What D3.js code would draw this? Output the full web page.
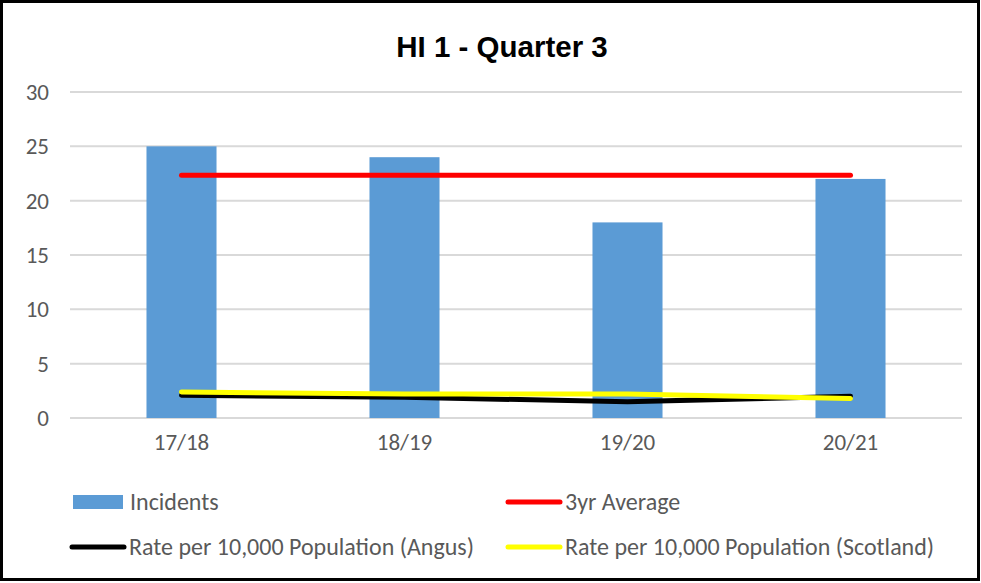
<!DOCTYPE html>
<meta charset="utf-8">
<body style="margin:0;background:#fff">
<script src="https://d3js.org/d3.v7.min.js"></script>
<script>
var years = ["17/18", "18/19", "19/20", "20/21"];
var incidents = [25, 24, 18, 22];
var avg3yr = [22.33, 22.33, 22.33, 22.33];
var rateAngus = [2.1, 1.9, 1.5, 2.0];
var rateScotland = [2.4, 2.2, 2.2, 1.8];
var yTicks = [0, 5, 10, 15, 20, 25, 30];

var width = 981, height = 583;
var font = "Calibri, Carlito, 'Liberation Sans Narrow', 'DejaVu Sans Condensed', sans-serif";

var svg = d3.select("body").append("svg")
    .attr("width", width)
    .attr("height", height);

svg.append("rect")
    .attr("x", 1.5).attr("y", 1.5)
    .attr("width", 977).attr("height", 578)
    .attr("fill", "#fff")
    .attr("stroke", "#000")
    .attr("stroke-width", 3);

var x = d3.scaleBand().domain(years).range([70, 962]).paddingInner(0.686).paddingOuter(0.343);
var y = d3.scaleLinear().domain([0, 30]).range([418, 92]);

// gridlines
svg.append("g").selectAll("line")
    .data(yTicks)
    .enter().append("line")
    .attr("x1", 70).attr("x2", 962)
    .attr("y1", d => y(d)).attr("y2", d => y(d))
    .attr("stroke", "#d9d9d9")
    .attr("stroke-width", 2);

// y labels
svg.append("g").selectAll("text")
    .data(yTicks)
    .enter().append("text")
    .attr("x", 49)
    .attr("y", d => y(d) + 8)
    .attr("text-anchor", "end")
    .style("font-family", font)
    .style("font-size", "23px")
    .attr("fill", "#595959")
    .text(d => d);

// x labels
svg.append("g").selectAll("text")
    .data(years)
    .enter().append("text")
    .attr("x", d => x(d) + x.bandwidth() / 2)
    .attr("y", 450)
    .attr("text-anchor", "middle")
    .style("font-family", font)
    .style("font-size", "23px")
    .attr("fill", "#595959")
    .text(d => d);

// bars
svg.append("g").selectAll("rect")
    .data(incidents)
    .enter().append("rect")
    .attr("x", (d, i) => x(years[i]))
    .attr("y", d => y(d))
    .attr("width", x.bandwidth())
    .attr("height", d => y(0) - y(d))
    .attr("fill", "#5b9bd5");

var cx = d => x(d) + x.bandwidth() / 2;
var line = d3.line()
    .x((d, i) => cx(years[i]))
    .y(d => y(d));

function drawLine(vals, color) {
  svg.append("path")
    .datum(vals)
    .attr("d", line)
    .attr("fill", "none")
    .attr("stroke", color)
    .attr("stroke-width", 5)
    .attr("stroke-linecap", "round")
    .attr("stroke-linejoin", "round");
}
drawLine(avg3yr, "#ff0000");
drawLine(rateAngus, "#000000");
drawLine(rateScotland, "#ffff00");

// title
svg.append("text")
    .attr("x", 502).attr("y", 57)
    .attr("text-anchor", "middle")
    .style("font-family", "Arial, 'Liberation Sans', sans-serif")
    .style("font-weight", "bold")
    .style("font-size", "29.5px")
    .attr("fill", "#000")
    .text("HI 1 - Quarter 3");

// legend
var legend = [
  {name: "Incidents", color: "#5b9bd5", type: "rect", x: 73, y: 502},
  {name: "3yr Average", color: "#ff0000", type: "line", x: 506, y: 502},
  {name: "Rate per 10,000 Population (Angus)", color: "#000000", type: "line", x: 70, y: 547},
  {name: "Rate per 10,000 Population (Scotland)", color: "#ffff00", type: "line", x: 506, y: 547}
];
var lg = svg.append("g").selectAll("g").data(legend).enter().append("g");
lg.filter(d => d.type == "rect").append("rect")
    .attr("x", d => d.x).attr("y", d => d.y - 7)
    .attr("width", 50).attr("height", 14)
    .attr("fill", d => d.color);
lg.filter(d => d.type == "line").append("line")
    .attr("x1", d => d.x + 2).attr("x2", d => d.x + 54)
    .attr("y1", d => d.y).attr("y2", d => d.y)
    .attr("stroke", d => d.color)
    .attr("stroke-width", 5)
    .attr("stroke-linecap", "round");
lg.append("text")
    .attr("x", d => d.type == "rect" ? d.x + 57 : d.x + 59)
    .attr("y", d => d.y + 8)
    .style("font-family", font)
    .style("font-size", "24px")
    .attr("fill", "#595959")
    .text(d => d.name);
</script>
</body>
